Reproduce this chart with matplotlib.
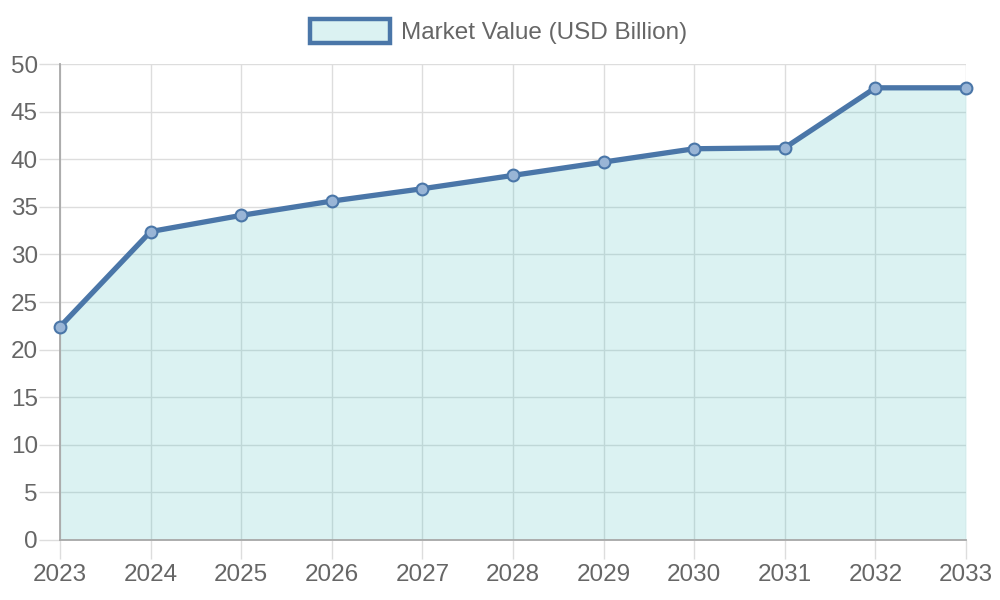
import matplotlib.pyplot as plt
from matplotlib.patches import Patch

# values
years = [2023, 2024, 2025, 2026, 2027, 2028, 2029, 2030, 2031, 2032, 2033]
market_value = [22.4, 32.4, 34.1, 35.6, 36.9, 38.3, 39.7, 41.1, 41.2, 47.5, 47.5]
y_ticks = list(range(0, 51, 5))
series_label = 'Market Value (USD Billion)'

line_color = '#4a76a8'
fill_color = (75 / 255, 192 / 255, 192 / 255, 0.2)
text_color = '#666666'
grid_color = '#dddddd'

plt.rcParams['font.family'] = ['Liberation Sans', 'DejaVu Sans']

fig = plt.figure(figsize=(10, 6), dpi=100)
ax = fig.add_axes([0.06, 0.1, 0.906, 0.7933])

ax.fill_between(years, market_value, 0, color=fill_color, linewidth=0, zorder=2)
ax.plot(years, market_value, color=line_color, linewidth=3.8, zorder=3,
        solid_joinstyle='miter', marker='o', markersize=8.5, clip_on=False,
        markerfacecolor=(0.6, 0.71, 0.84), markeredgecolor=line_color,
        markeredgewidth=1.5)

ax.set_xlim(years[0], years[-1])
ax.set_ylim(0, 50)
ax.set_xticks(years)
ax.set_yticks(y_ticks)

ax.grid(True, color=grid_color, linewidth=1, zorder=0)
ax.set_axisbelow(True)
for side in ['top', 'right']:
    ax.spines[side].set_visible(False)
for side in ['left', 'bottom']:
    ax.spines[side].set_color('#a8a8a8')
    ax.spines[side].set_linewidth(1.3)

ax.tick_params(axis='both', colors=grid_color, labelcolor=text_color,
               labelsize=17.5, width=1)
ax.tick_params(axis='x', length=13.5, pad=4)
ax.tick_params(axis='y', length=15, pad=1)

handle = Patch(facecolor='#dbf2f2', edgecolor=line_color, linewidth=3.2)
fig.legend([handle], [series_label], loc='center',
           bbox_to_anchor=(0.4985, 0.9475), frameon=False, fontsize=17.5,
           labelcolor=text_color, handlelength=3.3, handleheight=1.15,
           handletextpad=0.45, borderpad=0)

plt.savefig('out.png', dpi=100)
